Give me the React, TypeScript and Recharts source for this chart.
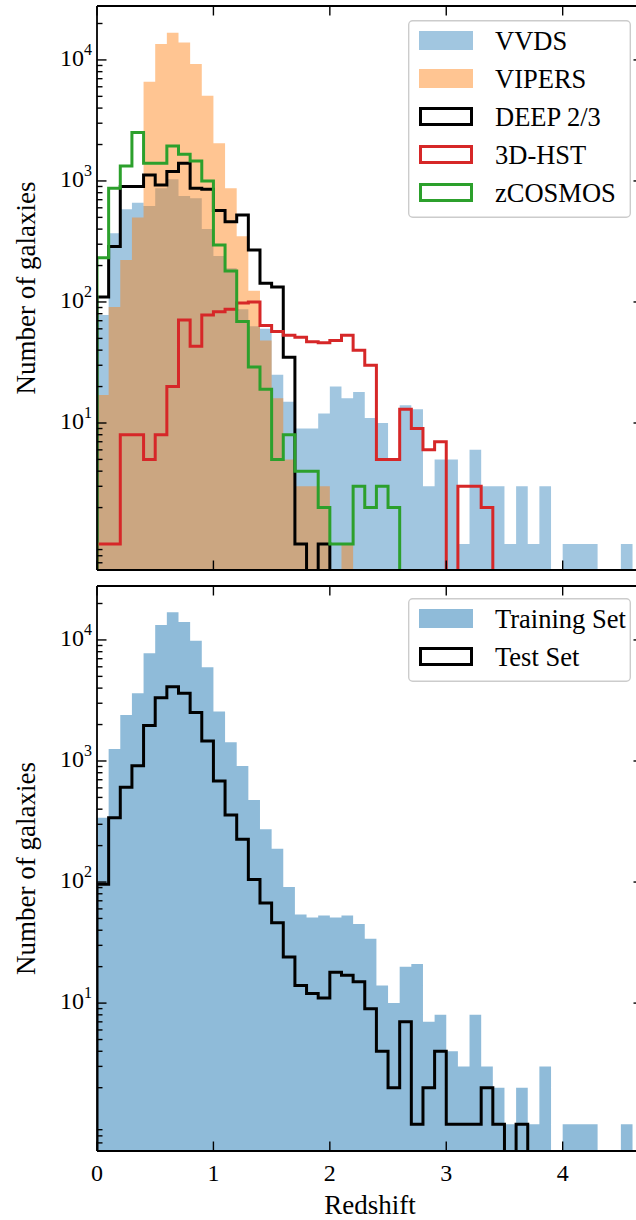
import React from 'react';
import { ComposedChart, Area, Line, XAxis, YAxis } from 'recharts';

// ---------- data ----------
const binStarts = [
  0, 0.1, 0.2, 0.3, 0.4, 0.5, 0.6, 0.7, 0.8, 0.9,
  1.0, 1.1, 1.2, 1.3, 1.4, 1.5, 1.6, 1.7, 1.8, 1.9,
  2.0, 2.1, 2.2, 2.3, 2.4, 2.5, 2.6, 2.7, 2.8, 2.9,
  3.0, 3.1, 3.2, 3.3, 3.4, 3.5, 3.6, 3.7, 3.8, 3.9,
  4.0, 4.1, 4.2, 4.3, 4.4, 4.5, 4.6,
];
const BIN_WIDTH = 0.1;

const vvds = [
  78, 370, 583, 661, 621, 871, 1033, 750, 720, 400,
  240, 190, 87, 63, 60, 25, 15, 9, 9, 12,
  20, 16, 18, 11, 10, 5, 14, 13, 3, 5,
  5, 1, 6, 3, 3, 1, 3, 1, 3, 0,
  1, 1, 1, 0, 0, 1, 0,
];
const vipers = [
  17, 91, 222, 500, 6600, 13550, 16800, 13900, 9270, 5070,
  2050, 870, 350, 124, 48, 16, 5, 3, 3, 3,
  0, 1, 0, 0, 0, 0, 0, 0, 0, 0,
  0, 0, 0, 0, 0, 0, 0, 0, 0, 0,
  0, 0, 0, 0, 0, 0, 0,
];
const deep = [
  110, 287, 898, 898, 1120, 927, 1195, 1400, 872, 853,
  569, 461, 524, 269, 143, 133, 35, 1, 0, 1,
  0, 0, 0, 0, 0, 0, 0, 0, 0, 0,
  0, 0, 0, 0, 0, 0, 0, 0, 0, 0,
  0, 0, 0, 0, 0, 0, 0,
];
const hst = [
  1, 1, 8, 8, 5, 8, 20, 71, 43, 78,
  83, 87, 98, 100, 64, 57, 53, 51, 47, 46,
  48, 53, 40, 30, 5, 5, 13, 9, 6, 7,
  0, 3, 3, 2, 0, 0, 0, 0, 0, 0,
  0, 0, 0, 0, 0, 0, 0,
];
const zcosmos = [
  232, 870, 1330, 2510, 1400, 1400, 1945, 1660, 1463, 1000,
  296, 180, 69, 29, 19, 5, 8, 4, 4, 2,
  1, 1, 3, 2, 3, 2, 0, 0, 0, 0,
  0, 0, 0, 0, 0, 0, 0, 0, 0, 0,
  0, 0, 0, 0, 0, 0, 0,
];
const training = [
  340, 1256, 2400, 3620, 7760, 13300, 16900, 14080, 9870, 5940,
  2560, 1430, 910, 476, 273, 188, 91, 54, 51, 53,
  51, 53, 45, 34, 14, 10, 20, 21, 7, 8,
  4, 3, 8, 3, 2, 1, 2, 1, 3, 0,
  1, 1, 1, 0, 0, 1, 0,
];
const test = [
  96, 340, 607, 915, 1960, 3330, 4110, 3620, 2520, 1463,
  684, 358, 226, 105, 67, 46, 24, 14, 12, 11,
  18, 17, 15, 9, 4, 2, 7, 1, 2, 4,
  1, 1, 1, 2, 1, 0, 1, 0, 0, 0,
  0, 0, 0, 0, 0, 0, 0,
];

const surveyNames = ['VVDS', 'VIPERS', 'DEEP 2/3', '3D-HST', 'zCOSMOS'];
const splitNames = ['Training Set', 'Test Set'];

const xTickValues = [0, 1, 2, 3, 4];
const xTickLabels = ['0', '1', '2', '3', '4'];
const yMajorTicks = [10, 100, 1000, 10000];
const yMajorBases = ['10', '10', '10', '10'];
const yMajorExponents = ['1', '2', '3', '4'];
const yMinorTicks = [
  0.6, 0.7, 0.8, 0.9,
  2, 3, 4, 5, 6, 7, 8, 9,
  20, 30, 40, 50, 60, 70, 80, 90,
  200, 300, 400, 500, 600, 700, 800, 900,
  2000, 3000, 4000, 5000, 6000, 7000, 8000, 9000,
  20000,
];

const X_LABEL = 'Redshift';
const Y_LABEL = 'Number of galaxies';

// ---------- style ----------
const FONT = "'Liberation Serif', 'DejaVu Serif', serif";
const C_BLUE = '#1f77b4';
const C_ORANGE = '#ff7f0e';
const C_RED = '#d62728';
const C_GREEN = '#2ca02c';
const FLOOR = 0.05;
const X_DOMAIN: [number, number] = [0, 4.69];
const Y_DOMAIN_TOP: [number, number] = [0.61, 27900];
const Y_DOMAIN_BOT: [number, number] = [0.6, 27900];

const CHART_W = 653;
const AX_W = 1.8;
const LINE_W = 3;

function buildTable(series: Record<string, number[]>) {
  const keys = Object.keys(series);
  const pos = (v: number) => (v > 0 ? v : FLOOR);
  const rows: any[] = [];
  const first: any = { x: binStarts[0] };
  keys.forEach((k) => (first[k] = FLOOR));
  rows.push(first);
  binStarts.forEach((x, i) => {
    const r: any = { x };
    keys.forEach((k) => (r[k] = pos(series[k][i])));
    rows.push(r);
  });
  const li = binStarts.length - 1;
  const end: any = { x: binStarts[li] + BIN_WIDTH };
  keys.forEach((k) => (end[k] = pos(series[k][li])));
  rows.push(end);
  const last: any = { x: binStarts[li] + BIN_WIDTH };
  keys.forEach((k) => (last[k] = FLOOR));
  rows.push(last);
  return rows;
}

const topData = buildTable({ vvds, vipers, deep, hst, zcosmos });
const botData = buildTable({ training, test });

function yTicksFor(domain: [number, number]) {
  return [...yMajorTicks, ...yMinorTicks]
    .filter((v) => v >= domain[0] && v <= domain[1])
    .sort((a, b) => a - b);
}

function makeYTick(side: 'left' | 'right', withLabels: boolean) {
  return (props: any) => {
    const { x, y, payload } = props;
    const v = payload.value as number;
    const mi = yMajorTicks.indexOf(v);
    const isMajor = mi >= 0;
    const len = isMajor ? 9.5 : 5.5;
    const x2 = side === 'left' ? x + len : x - len;
    return (
      <g>
        <line x1={x} y1={y} x2={x2} y2={y} stroke="#000" strokeWidth={1.4} />
        {withLabels && isMajor ? (
          <text
            x={x - 5}
            y={y + 6}
            textAnchor="end"
            fontFamily={FONT}
            fontSize={24}
            fill="#000"
          >
            {yMajorBases[mi]}
            <tspan dy={-11} fontSize={16}>
              {yMajorExponents[mi]}
            </tspan>
          </text>
        ) : null}
      </g>
    );
  };
}

function makeXTick(side: 'top' | 'bottom', withLabels: boolean) {
  return (props: any) => {
    const { x, y, payload } = props;
    const idx = xTickValues.indexOf(payload.value);
    const y2 = side === 'bottom' ? y - 9.5 : y + 9.5;
    return (
      <g>
        <line x1={x} y1={y} x2={x} y2={y2} stroke="#000" strokeWidth={1.4} />
        {withLabels ? (
          <text x={x} y={y + 30} textAnchor="middle" fontFamily={FONT} fontSize={24} fill="#000">
            {xTickLabels[idx]}
          </text>
        ) : null}
      </g>
    );
  };
}

const yLabel = (cy: number) => () =>
  (
    <text
      x={35}
      y={cy}
      transform={`rotate(-90 35 ${cy})`}
      textAnchor="middle"
      fontFamily={FONT}
      fontSize={27}
      fill="#000"
    >
      {Y_LABEL}
    </text>
  );

const xLabel = () => (
  <text x={370} y={634} textAnchor="middle" fontFamily={FONT} fontSize={27} fill="#000">
    {X_LABEL}
  </text>
);

type LegendEntry = { label: string; color: string; filled: boolean; opacity?: number };

function LegendBox({ entries, left, top, width }: { entries: LegendEntry[]; left: number; top: number; width: number }) {
  const rowH = 38;
  const height = 11 + rowH * (entries.length - 1) + 19 + 16;
  return (
    <svg
      style={{ position: 'absolute', left, top, overflow: 'visible' }}
      width={width}
      height={height}
    >
      <rect
        x={0.7}
        y={0.7}
        width={width - 1.4}
        height={height - 1.4}
        rx={4}
        ry={4}
        fill="#fff"
        fillOpacity={0.8}
        stroke="#cccccc"
        strokeWidth={1.4}
      />
      {entries.map((e, i) => {
        const py = 11 + rowH * i;
        return (
          <g key={e.label}>
            {e.filled ? (
              <rect x={11} y={py} width={54} height={19} fill={e.color} fillOpacity={e.opacity} />
            ) : (
              <rect x={12.5} y={py + 1.5} width={51} height={16} fill="none" stroke={e.color} strokeWidth={3} />
            )}
            <text x={87} y={py + 19} fontFamily={FONT} fontSize={26.5} fill="#000">
              {e.label}
            </text>
          </g>
        );
      })}
    </svg>
  );
}

const topLegend: LegendEntry[] = [
  { label: surveyNames[0], color: C_BLUE, filled: true, opacity: 0.42 },
  { label: surveyNames[1], color: C_ORANGE, filled: true, opacity: 0.45 },
  { label: surveyNames[2], color: '#000', filled: false },
  { label: surveyNames[3], color: C_RED, filled: false },
  { label: surveyNames[4], color: C_GREEN, filled: false },
];
const botLegend: LegendEntry[] = [
  { label: splitNames[0], color: C_BLUE, filled: true, opacity: 0.5 },
  { label: splitNames[1], color: '#000', filled: false },
];

const axisLine = { stroke: '#000', strokeWidth: AX_W };

export default function App() {
  const topTicks = yTicksFor(Y_DOMAIN_TOP);
  const botTicks = yTicksFor(Y_DOMAIN_BOT);
  return (
    <div
      style={{
        position: 'absolute',
        left: 0,
        top: 0,
        width: 636,
        height: 1220,
        overflow: 'hidden',
        background: '#fff',
      }}
    >
      <div style={{ position: 'absolute', left: 0, top: 0 }}>
        <ComposedChart width={CHART_W} height={580} data={topData} margin={{ top: 0, right: 0, bottom: 0, left: 7 }}>
          <XAxis
            xAxisId="b"
            dataKey="x"
            type="number"
            domain={X_DOMAIN}
            allowDataOverflow
            ticks={xTickValues}
            interval={0}
            height={10}
            tickSize={0}
            tickMargin={0}
            tickLine={false}
            axisLine={axisLine}
            tick={makeXTick('bottom', false)}
          />
          <XAxis
            xAxisId="t"
            orientation="top"
            dataKey="x"
            type="number"
            domain={X_DOMAIN}
            allowDataOverflow
            ticks={xTickValues}
            interval={0}
            height={6}
            tickSize={0}
            tickMargin={0}
            tickLine={false}
            axisLine={axisLine}
            tick={makeXTick('top', false)}
          />
          <YAxis
            yAxisId="l"
            scale="log"
            domain={Y_DOMAIN_TOP}
            allowDataOverflow
            ticks={topTicks}
            interval={0}
            width={90}
            tickSize={0}
            tickMargin={0}
            tickLine={false}
            axisLine={axisLine}
            tick={makeYTick('left', true)}
            label={yLabel(288)}
          />
          <YAxis
            yAxisId="r"
            orientation="right"
            scale="log"
            domain={Y_DOMAIN_TOP}
            allowDataOverflow
            ticks={topTicks}
            interval={0}
            width={10}
            tickSize={0}
            tickMargin={0}
            tickLine={false}
            axisLine={axisLine}
            tick={makeYTick('right', false)}
          />
          <Area xAxisId="b" yAxisId="l" type="stepAfter" dataKey="vvds" stroke="none" fill={C_BLUE} fillOpacity={0.42} baseValue={Y_DOMAIN_TOP[0]} dot={false} activeDot={false} isAnimationActive={false} />
          <Area xAxisId="b" yAxisId="l" type="stepAfter" dataKey="vipers" stroke="none" fill={C_ORANGE} fillOpacity={0.45} baseValue={Y_DOMAIN_TOP[0]} dot={false} activeDot={false} isAnimationActive={false} />
          <Line xAxisId="b" yAxisId="l" type="stepAfter" dataKey="deep" stroke="#000" strokeWidth={LINE_W} strokeLinejoin="miter" dot={false} activeDot={false} isAnimationActive={false} />
          <Line xAxisId="b" yAxisId="l" type="stepAfter" dataKey="hst" stroke={C_RED} strokeWidth={LINE_W} strokeLinejoin="miter" dot={false} activeDot={false} isAnimationActive={false} />
          <Line xAxisId="b" yAxisId="l" type="stepAfter" dataKey="zcosmos" stroke={C_GREEN} strokeWidth={LINE_W} strokeLinejoin="miter" dot={false} activeDot={false} isAnimationActive={false} />
        </ComposedChart>
        <LegendBox entries={topLegend} left={408} top={20} width={223} />
      </div>
      <div style={{ position: 'absolute', left: 0, top: 580 }}>
        <ComposedChart width={CHART_W} height={640} data={botData} margin={{ top: 0, right: 0, bottom: 0, left: 7 }}>
          <XAxis
            xAxisId="b"
            dataKey="x"
            type="number"
            domain={X_DOMAIN}
            allowDataOverflow
            ticks={xTickValues}
            interval={0}
            height={69}
            tickSize={0}
            tickMargin={0}
            tickLine={false}
            axisLine={axisLine}
            tick={makeXTick('bottom', true)}
            label={xLabel}
          />
          <XAxis
            xAxisId="t"
            orientation="top"
            dataKey="x"
            type="number"
            domain={X_DOMAIN}
            allowDataOverflow
            ticks={xTickValues}
            interval={0}
            height={6}
            tickSize={0}
            tickMargin={0}
            tickLine={false}
            axisLine={axisLine}
            tick={makeXTick('top', false)}
          />
          <YAxis
            yAxisId="l"
            scale="log"
            domain={Y_DOMAIN_BOT}
            allowDataOverflow
            ticks={botTicks}
            interval={0}
            width={90}
            tickSize={0}
            tickMargin={0}
            tickLine={false}
            axisLine={axisLine}
            tick={makeYTick('left', true)}
            label={yLabel(288.5)}
          />
          <YAxis
            yAxisId="r"
            orientation="right"
            scale="log"
            domain={Y_DOMAIN_BOT}
            allowDataOverflow
            ticks={botTicks}
            interval={0}
            width={10}
            tickSize={0}
            tickMargin={0}
            tickLine={false}
            axisLine={axisLine}
            tick={makeYTick('right', false)}
          />
          <Area xAxisId="b" yAxisId="l" type="stepAfter" dataKey="training" stroke="none" fill={C_BLUE} fillOpacity={0.5} baseValue={Y_DOMAIN_BOT[0]} dot={false} activeDot={false} isAnimationActive={false} />
          <Line xAxisId="b" yAxisId="l" type="stepAfter" dataKey="test" stroke="#000" strokeWidth={LINE_W} strokeLinejoin="miter" dot={false} activeDot={false} isAnimationActive={false} />
        </ComposedChart>
        <LegendBox entries={botLegend} left={408} top={18} width={223} />
      </div>
    </div>
  );
}
